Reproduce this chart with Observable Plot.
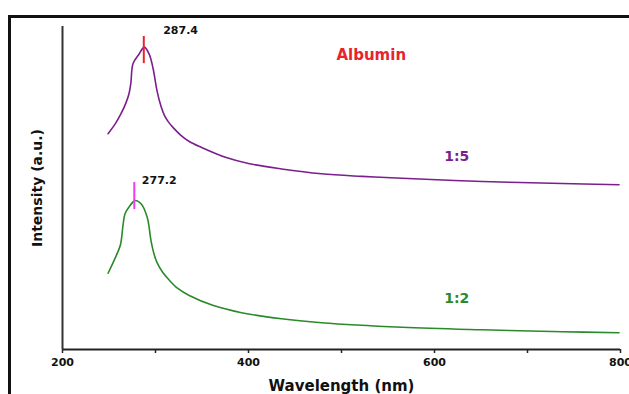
<!DOCTYPE html>
<html>
<head>
<meta charset="utf-8">
<script src="https://cdn.jsdelivr.net/npm/d3@7"></script>
<script src="https://cdn.jsdelivr.net/npm/@observablehq/plot@0.6"></script>
<style>
  html, body { margin: 0; padding: 0; background: white; overflow: hidden; }
  #wrap { position: relative; width: 629px; height: 394px; }
  #frame { position: absolute; left: 8px; top: 15px; width: 640px; height: 400px;
           border-top: 3px solid #111; border-left: 3px solid #111; box-sizing: border-box; pointer-events: none; }
  #chart { position: absolute; left: 0; top: 0; }
</style>
</head>
<body>
<div id="wrap"><div id="chart"></div><div id="frame"></div></div>
<script>
// Wavelength (nm) and intensity (a.u.)
const wl15 = [249, 257, 262.9, 268, 271.5, 273.5, 275.8, 282.4, 288, 293.1, 297.4, 301.7, 306, 309.7, 314, 319, 327, 336.3, 349.2, 375.2, 401.1, 435.5, 478.5, 521.9, 565.2, 651.6, 737.6, 798.4];
const int15 = [66.8, 70.0, 73.0, 76.2, 79.2, 82.5, 88.5, 91.5, 93.6, 91.5, 87.0, 80.0, 75.2, 72.4, 70.4, 68.7, 66.4, 64.4, 62.6, 59.5, 57.5, 55.9, 54.4, 53.6, 53.0, 52.0, 51.4, 51.0];
const wl12 = [249, 258.6, 262.4, 265.1, 267.2, 271.5, 278, 284.5, 291, 295.3, 298.5, 301.7, 307.5, 314.7, 324, 336.3, 362.3, 392.5, 435.5, 478.5, 565.2, 651.6, 737.6, 798.4];
const int12 = [23.6, 29.6, 32.5, 38.5, 42.0, 44.1, 46.1, 45.1, 41.0, 33.5, 29.5, 26.9, 24.0, 21.5, 18.9, 16.7, 13.6, 11.4, 9.5, 8.3, 6.9, 6.1, 5.5, 5.2];

const peakWl = [287.4, 277.2];
const peakLow = [88.5, 43.3];
const peakHigh = [96.9, 51.7];
const peakColors = ["#e8232d", "#f03cf0"];
const peakLabels = ["287.4", "277.2"];
const peakLabelX = [327, 304];
const peakLabelY = [98.8, 52.3];

const seriesNames = ["1:5", "1:2"];
const seriesColors = ["#7a1f8c", "#2a8a2a"];
const seriesLabelX = [624, 624];
const seriesLabelY = [59.6, 15.8];

const titleText = ["Albumin"];
const titleX = [532];
const titleY = [91];

const xTicks = [200, 300, 400, 500, 600, 700, 800];
const xTickLabels = [200, 400, 600, 800];

const s15 = wl15.map((w, i) => ({w, v: int15[i]}));
const s12 = wl12.map((w, i) => ({w, v: int12[i]}));
const peaks = peakWl.map((w, i) => ({w, lo: peakLow[i], hi: peakHigh[i], c: peakColors[i], label: peakLabels[i], lx: peakLabelX[i], ly: peakLabelY[i]}));
const series = seriesNames.map((n, i) => ({n, c: seriesColors[i], x: seriesLabelX[i], y: seriesLabelY[i]}));

const font = "DejaVu Sans";
const chart = Plot.plot({
  width: 629,
  height: 394,
  marginLeft: 62,
  marginRight: 9,
  marginTop: 26,
  marginBottom: 45,
  style: {fontFamily: font, background: "transparent"},
  x: {domain: [200, 800]},
  y: {domain: [0, 100]},
  marks: [
    Plot.axisX({ticks: xTicks, tickSize: 4, tickPadding: 5, fontSize: 11, fontWeight: "bold",
      stroke: "#222", strokeWidth: 1.5, color: "#111",
      tickFormat: d => xTickLabels.includes(d) ? String(d) : "", label: null}),
    Plot.axisY({ticks: [], label: null}),
    Plot.ruleY([0], {stroke: "#222", strokeWidth: 2}),
    Plot.ruleX([200], {stroke: "#333", strokeWidth: 2}),
    Plot.line(s15, {x: "w", y: "v", stroke: seriesColors[0], strokeWidth: 1.6, curve: "catmull-rom"}),
    Plot.line(s12, {x: "w", y: "v", stroke: seriesColors[1], strokeWidth: 1.6, curve: "catmull-rom"}),
    Plot.ruleX(peaks, {x: "w", y1: "lo", y2: "hi", stroke: "c", strokeWidth: 2}),
    Plot.text(peaks, {x: "lx", y: "ly", text: "label", fontSize: 11, fontWeight: "bold", fill: "#111"}),
    Plot.text(series, {x: "x", y: "y", text: "n", fill: "c", fontSize: 14, fontWeight: "bold"}),
    Plot.text(titleText, {x: titleX, y: titleY, text: d => d, fill: "#e8232d", fontSize: 15, fontWeight: "bold"}),
    Plot.text(["Wavelength (nm)"], {frameAnchor: "bottom", dy: 37, text: d => d, fontSize: 15, fontWeight: "bold", fill: "#111", textAnchor: "middle", lineAnchor: "middle"}),
    Plot.text(["Intensity (a.u.)"], {frameAnchor: "left", dx: -25, rotate: -90, text: d => d, fontSize: 14, fontWeight: "bold", fill: "#111", textAnchor: "middle", lineAnchor: "middle"})
  ]
});
document.getElementById("chart").appendChild(chart);
</script>
</body>
</html>
